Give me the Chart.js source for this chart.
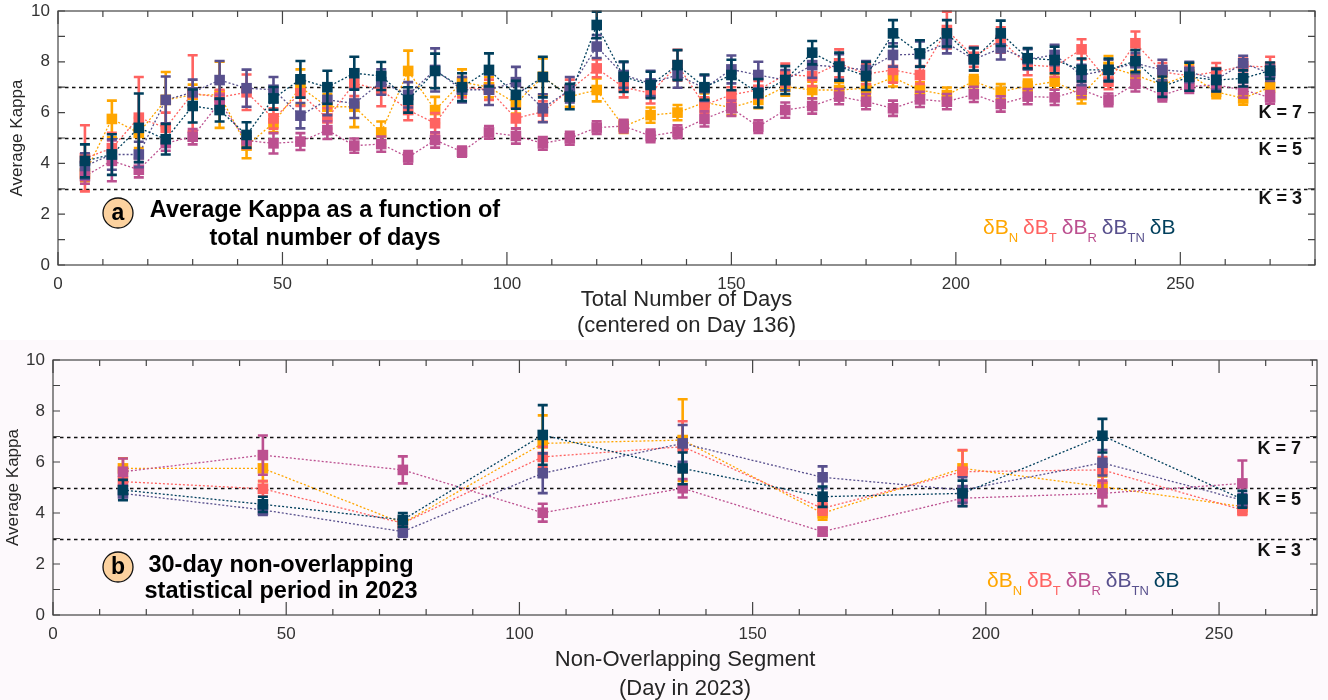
<!DOCTYPE html>
<html>
<head>
<meta charset="utf-8">
<script src="https://cdn.jsdelivr.net/npm/chart.js@4.4.1/dist/chart.umd.min.js"></script>
<style>
html, body { margin: 0; padding: 0; background: #fff; }
#wrap { position: relative; width: 1328px; height: 700px; }
#boxA { position: absolute; left: 0; top: 0; width: 1328px; height: 340px; }
#boxB { position: absolute; left: 0; top: 340px; width: 1328px; height: 360px; background: #fdf9fc; }
</style>
</head>
<body>
<div id="wrap">
  <div id="boxA"><canvas id="kappaA"></canvas></div>
  <div id="boxB"><canvas id="kappaB"></canvas></div>
</div>
<script>
// ---- series ----
var seriesSub = ['N', 'T', 'R', 'TN', ''];
var seriesColors = ['#ffa600', '#ff6361', '#bc5090', '#58508d', '#003f5c'];

// panel a: cumulative window length (days)
var daysA = [6,12,18,24,30,36,42,48,54,60,66,72,78,84,90,96,102,108,114,120,126,132,138,144,150,
             156,162,168,174,180,186,192,198,204,210,216,222,228,234,240,246,252,258,264,270];

var kappaN_A = [3.6,5.75,5.2,6.5,6.7,6.7,4.7,5.58,7.0,6.23,6.23,5.22,7.64,6.1,7.2,7.0,6.36,7.41,6.63,6.89,5.45,5.9,6.0,6.4,6.2,
                6.5,7.02,6.89,6.89,6.96,7.38,6.89,6.69,7.24,6.82,7.05,7.22,6.69,7.8,7.48,7.09,7.5,6.82,6.56,7.0];
var errN_A   = [0.3,0.72,0.6,1.1,0.4,1.3,0.5,0.35,0.7,0.5,0.8,0.43,0.8,0.52,0.5,0.4,0.4,0.72,0.4,0.45,0.25,0.3,0.3,0.35,0.3,
                0.33,0.35,0.33,0.3,0.3,0.35,0.3,0.3,0.24,0.3,0.25,0.3,0.33,0.43,0.35,0.3,0.4,0.25,0.25,0.2];

var kappaT_A = [4.2,4.6,5.8,5.4,6.76,6.6,6.8,5.77,6.76,5.77,7.15,6.9,6.1,5.58,7.0,6.9,5.77,6.04,6.9,7.74,7.0,6.76,7.87,6.3,6.7,
                6.9,7.48,7.44,7.94,7.52,7.68,7.48,9.25,8.2,8.86,7.87,7.81,8.49,7.22,8.73,7.6,7.45,7.6,7.83,7.8];
var errT_A   = [1.3,0.6,1.6,0.6,1.5,0.3,0.7,0.4,0.5,0.4,0.5,0.65,0.4,0.4,0.4,0.4,0.4,0.4,0.4,0.35,0.4,0.4,0.6,0.3,0.3,
                0.35,0.45,0.4,0.55,0.4,0.5,0.35,0.72,0.4,0.5,0.4,0.4,0.4,0.3,0.46,0.35,0.35,0.35,0.3,0.4];

var kappaR_A = [3.5,4.1,3.75,4.8,5.05,6.4,4.9,4.79,4.86,5.31,4.7,4.76,4.24,4.92,4.46,5.22,5.08,4.79,4.99,5.41,5.47,5.08,5.25,5.75,6.17,
                5.45,6.1,6.26,6.63,6.43,6.17,6.52,6.43,6.72,6.34,6.63,6.6,6.9,6.5,7.13,6.69,7.02,7.09,6.89,6.6];
var errR_A   = [0.3,0.8,0.3,0.3,0.3,0.3,0.3,0.4,0.33,0.35,0.28,0.3,0.25,0.3,0.2,0.25,0.3,0.25,0.25,0.25,0.25,0.25,0.25,0.3,0.3,
                0.25,0.3,0.3,0.3,0.3,0.3,0.3,0.3,0.3,0.3,0.3,0.3,0.3,0.25,0.3,0.25,0.25,0.25,0.3,0.25];

var kappaTN_A = [3.9,4.35,4.35,6.5,6.8,7.28,6.96,6.9,5.88,6.5,6.36,7.2,6.7,7.68,6.9,6.9,7.2,6.17,6.9,8.6,7.48,7.15,7.48,6.96,7.7,
                 7.48,7.28,7.87,7.8,7.68,8.27,8.3,8.73,8.1,8.53,8.1,8.27,7.48,7.68,7.94,7.68,7.6,7.3,7.94,7.55];
var errTN_A   = [0.5,0.6,0.5,0.92,0.5,0.75,0.73,0.5,0.5,0.6,0.57,0.5,0.5,0.85,0.5,0.6,0.6,0.55,0.5,0.45,0.5,0.5,0.5,0.5,0.55,
                 0.52,0.4,0.5,0.5,0.35,0.46,0.5,0.4,0.45,0.44,0.4,0.4,0.4,0.4,0.4,0.4,0.4,0.4,0.3,0.3];

var kappaB_A = [4.1,4.35,5.4,4.95,6.26,6.1,5.12,6.56,7.31,7.0,7.55,7.44,6.5,7.64,7.0,7.68,6.7,7.4,6.63,9.45,7.41,7.09,7.87,7.0,7.48,
                6.76,7.28,8.36,7.81,7.44,9.12,8.33,9.12,8.1,9.12,8.14,8.07,7.68,7.68,8.03,7.02,7.41,7.28,7.35,7.65];
var errB_A   = [0.65,0.8,1.35,0.6,0.65,0.45,0.5,0.45,0.72,0.65,0.65,0.55,0.5,0.68,0.55,0.65,0.55,0.8,0.5,0.52,0.6,0.52,0.59,0.5,0.6,
                0.56,0.55,0.46,0.55,0.55,0.52,0.52,0.52,0.44,0.5,0.4,0.52,0.45,0.45,0.43,0.4,0.55,0.45,0.32,0.32];

// panel b: 30-day segments (centre day in 2023)
var daysB = [15, 45, 75, 105, 135, 165, 195, 225, 255];

var kappaN_B  = [5.75, 5.75, 3.6, 6.73, 6.86, 3.99, 5.75, 5.03, 4.25];
var errN_B    = [0.4, 0.5, 0.25, 1.1, 1.6, 0.25, 0.7, 0.4, 0.2];
var kappaT_B  = [5.23, 4.95, 3.6, 6.2, 6.6, 4.18, 5.62, 5.69, 4.12];
var errT_B    = [0.3, 0.3, 0.2, 0.4, 1.0, 0.25, 0.85, 0.5, 0.2];
var kappaR_B  = [5.62, 6.27, 5.69, 4.01, 4.97, 3.27, 4.58, 4.77, 5.16];
var errR_B    = [0.52, 0.77, 0.53, 0.35, 0.36, 0.15, 0.3, 0.5, 0.9];
var kappaTN_B = [4.77, 4.12, 3.27, 5.56, 6.73, 5.4, 4.9, 5.97, 4.5];
var errTN_B   = [0.25, 0.2, 0.2, 0.78, 0.72, 0.43, 0.5, 0.5, 0.25];
var kappaB_B  = [4.9, 4.34, 3.73, 7.06, 5.75, 4.64, 4.77, 7.03, 4.54];
var errB_B    = [0.4, 0.3, 0.27, 1.17, 0.62, 0.4, 0.5, 0.66, 0.33];

// ---- axes ----
var xTicksA = [0, 50, 100, 150, 200, 250];
var xTicksB = [0, 50, 100, 150, 200, 250];
var yTicks = [0, 2, 4, 6, 8, 10];
var kLevels = [7, 5, 3];

var FONT = '"Liberation Sans", Arial, sans-serif';

function steps(from, to, by) {
    var out = [];
    for (var v = from; v <= to + 1e-9; v += by) out.push(v);
    return out;
}

function makeSets(xs, values, errors) {
    return values.map(function (vals, s) {
        return {
            label: 'δB' + seriesSub[s],
            data: vals.map(function (v, i) { return { x: xs[i], y: v }; }),
            err: errors[s],
            order: values.length - 1 - s,   // δB ends up on top
            showLine: true,
            borderColor: seriesColors[s],
            backgroundColor: seriesColors[s],
            borderWidth: 1.3,
            borderDash: [2, 2],
            pointStyle: 'rect',
            pointRadius: 7.5,
            pointBorderWidth: 0,
            pointHoverRadius: 7.5
        };
    });
}

// vertical error bars, painted just before each dataset so markers sit on top
var errorBars = {
    id: 'errorBars',
    beforeDatasetDraw: function (chart, args) {
        var ds = chart.data.datasets[args.index];
        if (!ds.err) return;
        var y = chart.scales.y, ctx = chart.ctx, cap = 5;
        ctx.save();
        ctx.strokeStyle = ds.borderColor;
        ctx.lineWidth = 2.6;
        args.meta.data.forEach(function (pt, i) {
            var v = ds.data[i].y, e = ds.err[i];
            var t = y.getPixelForValue(v + e), b = y.getPixelForValue(v - e);
            ctx.beginPath();
            ctx.moveTo(pt.x, t); ctx.lineTo(pt.x, b);
            ctx.moveTo(pt.x - cap, t); ctx.lineTo(pt.x + cap, t);
            ctx.moveTo(pt.x - cap, b); ctx.lineTo(pt.x + cap, b);
            ctx.stroke();
        });
        ctx.restore();
    }
};

// box, inward ticks, K reference lines and the in-plot texts
var kappaFrame = {
    id: 'kappaFrame',
    beforeDatasetsDraw: function (chart, args, o) {
        var ctx = chart.ctx, a = chart.chartArea, y = chart.scales.y;
        ctx.save();
        ctx.strokeStyle = '#111';
        ctx.lineWidth = 1.6;
        ctx.setLineDash([3.5, 3.5]);
        kLevels.forEach(function (k) {
            var py = Math.round(y.getPixelForValue(k)) + 0.5;
            ctx.beginPath(); ctx.moveTo(a.left, py); ctx.lineTo(a.right, py); ctx.stroke();
        });
        ctx.restore();
    },
    afterDraw: function (chart, args, o) {
        var ctx = chart.ctx, a = chart.chartArea, x = chart.scales.x, y = chart.scales.y;
        ctx.save();
        ctx.strokeStyle = '#444';
        ctx.lineWidth = 1.2;
        ctx.strokeRect(a.left, a.top, a.right - a.left, a.bottom - a.top);
        ctx.beginPath();
        o.xMinor.forEach(function (v) {
            var px = x.getPixelForValue(v);
            var len = (v % 50 === 0) ? 13 : 6;
            ctx.moveTo(px, a.bottom); ctx.lineTo(px, a.bottom - len);
            ctx.moveTo(px, a.top); ctx.lineTo(px, a.top + len);
        });
        steps(0, 10, 1).forEach(function (v) {
            var py = y.getPixelForValue(v);
            ctx.moveTo(a.left, py); ctx.lineTo(a.left + 7, py);
            ctx.moveTo(a.right, py); ctx.lineTo(a.right - 7, py);
        });
        ctx.stroke();

        // K = n labels
        ctx.fillStyle = '#111';
        ctx.font = 'bold 18px ' + FONT;
        ctx.textAlign = 'right';
        ctx.textBaseline = 'middle';
        kLevels.forEach(function (k, i) {
            ctx.fillText('K = ' + k, o.kRight, y.getPixelForValue(k) + o.kOffsets[i]);
        });

        // panel tag
        ctx.beginPath();
        ctx.arc(o.tagX, o.tagY, 15, 0, Math.PI * 2);
        ctx.fillStyle = '#fcd29f';
        ctx.fill();
        ctx.lineWidth = 1.3;
        ctx.strokeStyle = '#111';
        ctx.stroke();
        ctx.fillStyle = '#000';
        ctx.textAlign = 'center';
        ctx.font = 'bold 23px ' + FONT;
        ctx.fillText(o.tag, o.tagX, o.tagY + 1);
        ctx.font = 'bold 23.5px ' + FONT;
        o.tagLines.forEach(function (line, i) {
            ctx.fillText(line, o.textX, o.textY + i * o.textGap);
        });

        // coloured legend
        var lx = o.legendX;
        ctx.textAlign = 'left';
        ctx.textBaseline = 'alphabetic';
        seriesSub.forEach(function (sub, s) {
            ctx.fillStyle = seriesColors[s];
            ctx.font = '21px ' + FONT;
            ctx.fillText('δB', lx, o.legendY);
            lx += ctx.measureText('δB').width;
            if (sub) {
                ctx.font = '13px ' + FONT;
                ctx.fillText(sub, lx, o.legendY + 8);
                lx += ctx.measureText(sub).width;
            }
            lx += 5;
        });
        ctx.restore();
    }
};

function axisOptions(xMax, xTicks, yWidth, xHeight, xTitle, xLineHeight, xPad, yPad) {
    var tickFont = { family: FONT, size: 17 };
    return {
        x: {
            type: 'linear', min: 0, max: xMax,
            afterBuildTicks: function (s) { s.ticks = xTicks.map(function (v) { return { value: v }; }); },
            afterFit: function (s) { s.height = xHeight; s.paddingLeft = 0; s.paddingRight = 0; },
            grid: { display: false, drawTicks: false }, border: { display: false },
            ticks: { color: '#333', font: tickFont, padding: 9, maxRotation: 0 },
            title: {
                display: true, text: xTitle, color: '#262626',
                font: { family: FONT, size: 22, lineHeight: xLineHeight },
                padding: { top: 0, bottom: xPad }
            }
        },
        y: {
            type: 'linear', min: 0, max: 10,
            afterBuildTicks: function (s) { s.ticks = yTicks.map(function (v) { return { value: v }; }); },
            afterFit: function (s) { s.width = yWidth; s.paddingTop = 0; s.paddingBottom = 0; },
            grid: { display: false, drawTicks: false }, border: { display: false },
            ticks: { color: '#333', font: tickFont, padding: 8 },
            title: {
                display: true, text: 'Average Kappa', color: '#262626',
                font: { family: FONT, size: 17, lineHeight: 1.2 },
                padding: { top: yPad, bottom: 0 }
            }
        }
    };
}

Chart.defaults.animation = false;

new Chart(document.getElementById('kappaA'), {
    type: 'scatter',
    data: {
        datasets: makeSets(daysA,
            [kappaN_A, kappaT_A, kappaR_A, kappaTN_A, kappaB_A],
            [errN_A, errT_A, errR_A, errTN_A, errB_A])
    },
    options: {
        responsive: true,
        maintainAspectRatio: false,
        layout: { padding: { left: 0, right: 13, top: 11, bottom: 0 } },
        plugins: {
            legend: { display: false }, tooltip: { enabled: false },
            kappaFrame: {
                xMinor: steps(0, 280, 10), kRight: 1302, kOffsets: [26, 12, 10],
                tag: 'a', tagX: 118, tagY: 213,
                tagLines: ['Average Kappa as a function of', 'total number of days'],
                textX: 325, textY: 211, textGap: 28,
                legendX: 983, legendY: 234
            }
        },
        scales: axisOptions(280, xTicksA, 58, 75, ['Total Number of Days', '(centered on Day 136)'], 1.14, 2, 7)
    },
    plugins: [errorBars, kappaFrame]
});

new Chart(document.getElementById('kappaB'), {
    type: 'scatter',
    data: {
        datasets: makeSets(daysB,
            [kappaN_B, kappaT_B, kappaR_B, kappaTN_B, kappaB_B],
            [errN_B, errT_B, errR_B, errTN_B, errB_B])
    },
    options: {
        responsive: true,
        maintainAspectRatio: false,
        layout: { padding: { left: 0, right: 11, top: 20, bottom: 0 } },
        plugins: {
            legend: { display: false }, tooltip: { enabled: false },
            kappaFrame: {
                xMinor: steps(0, 270, 10), kRight: 1301, kOffsets: [13, 13, 13],
                tag: 'b', tagX: 118, tagY: 227,
                tagLines: ['30-day non-overlapping', 'statistical period in 2023'],
                textX: 281, textY: 226, textGap: 26,
                legendX: 987, legendY: 247
            }
        },
        scales: axisOptions(271, xTicksB, 53, 85, ['Non-Overlapping Segment', '(Day in 2023)'], 1.32, -3, 3)
    },
    plugins: [errorBars, kappaFrame]
});
</script>
</body>
</html>
